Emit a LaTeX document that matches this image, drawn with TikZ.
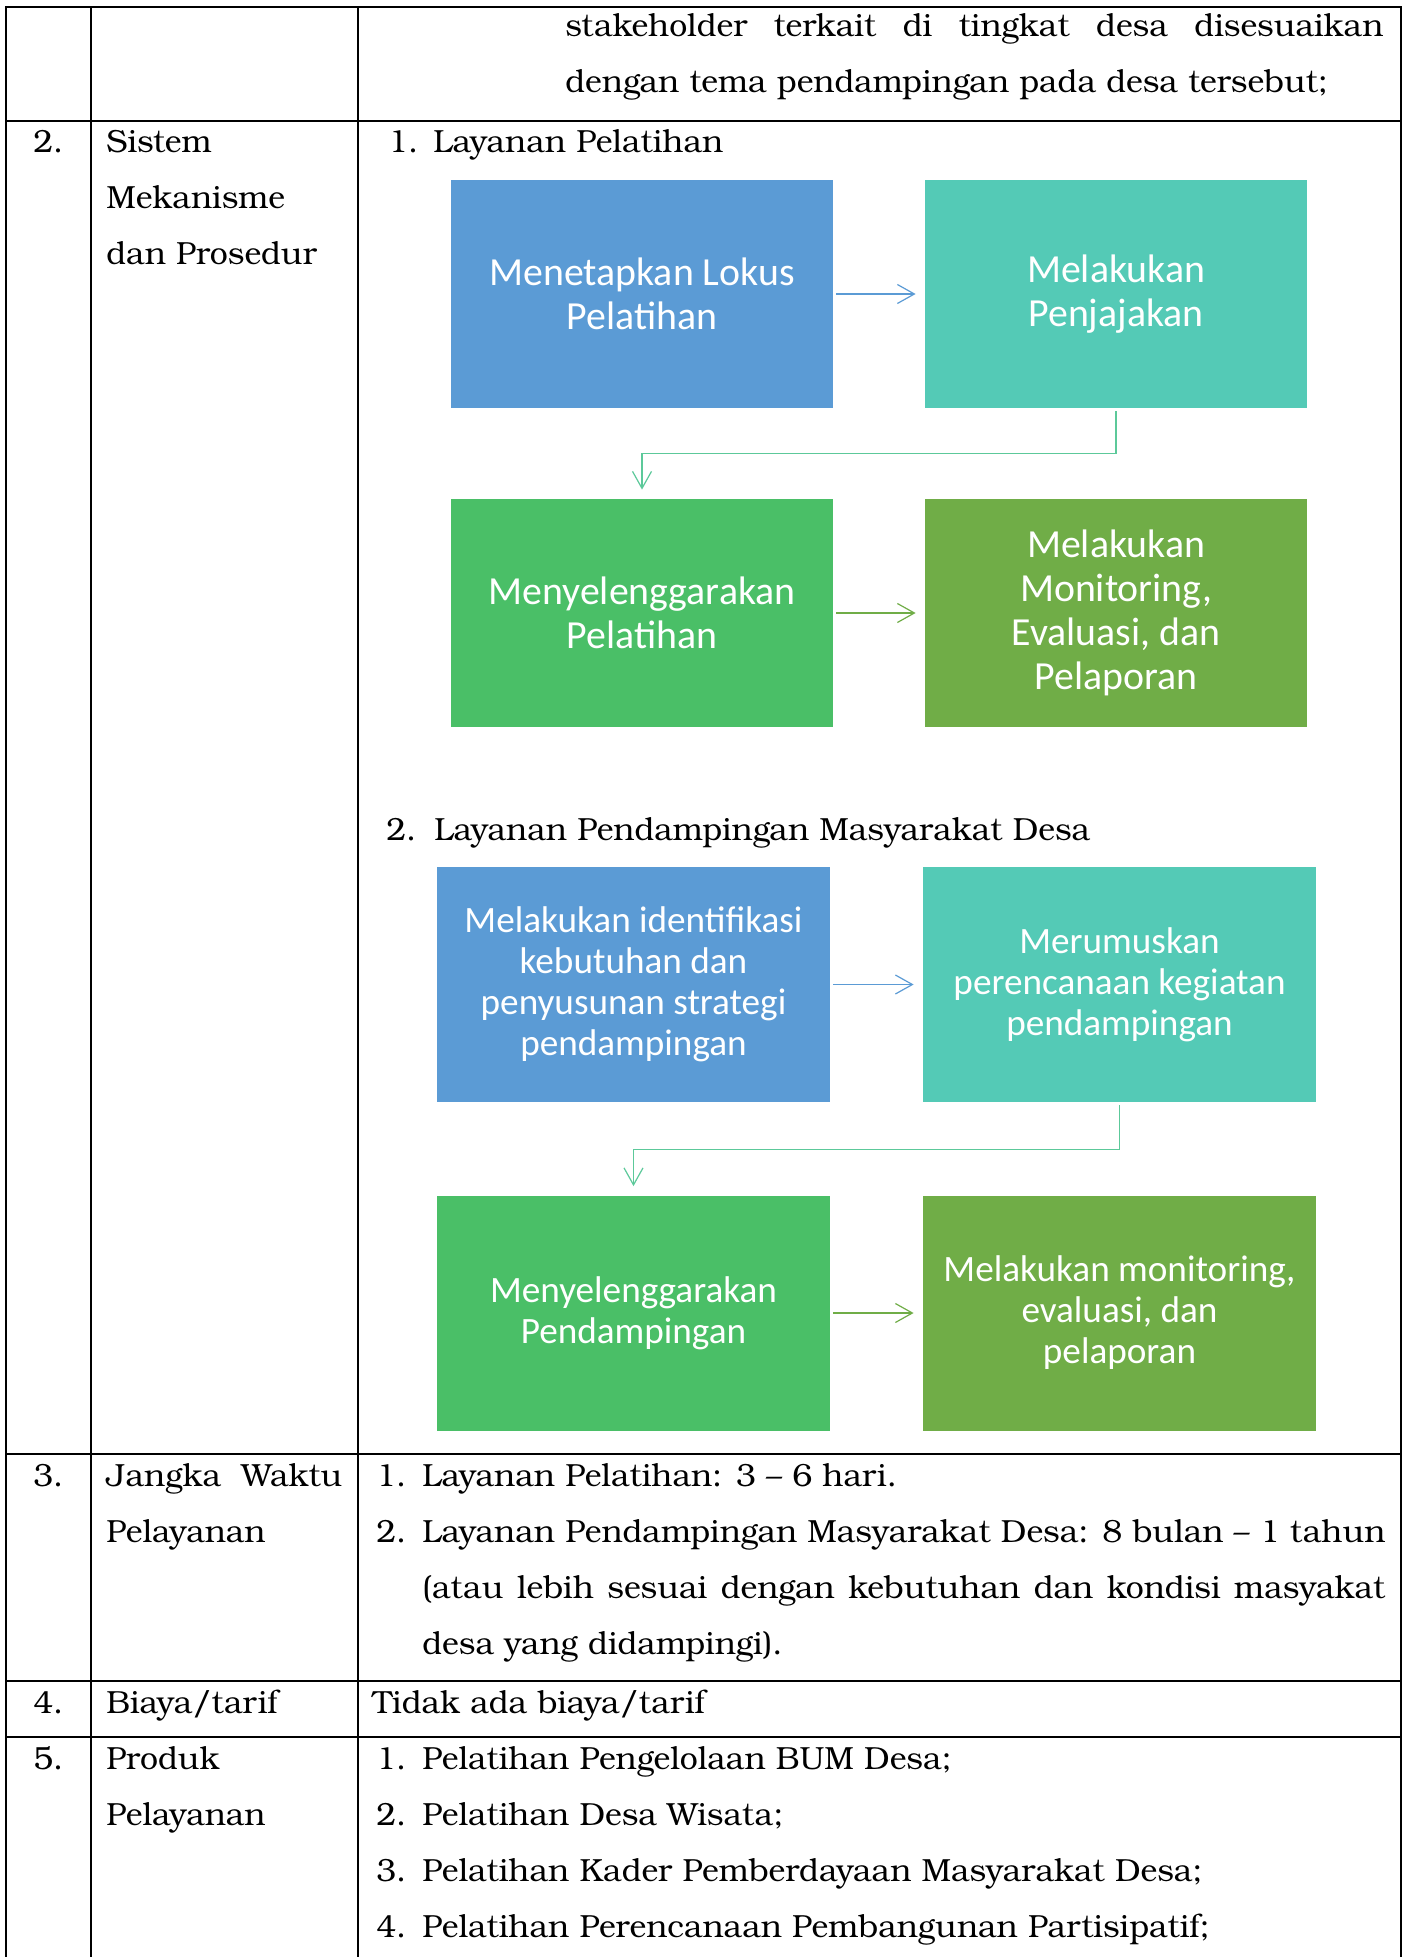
\documentclass[tikz,border=0pt]{standalone}
\usepackage{fontspec}
\setmainfont{TeX Gyre Bonum}
\newfontfamily\boxfont{Carlito}
\usetikzlibrary{arrows.meta}
\definecolor{cblue}{HTML}{5B9BD5}
\definecolor{cteal}{HTML}{54CAB6}
\definecolor{cgreen}{HTML}{4ABF67}
\definecolor{colive}{HTML}{70AD47}
\definecolor{clink}{HTML}{5CC99A}
\begin{document}
\begin{tikzpicture}[x=0.5pt,y=-0.5pt,
  tbl/.style={line width=0.85pt},
  txt/.style={anchor=base west, inner sep=0pt, font=\fontsize{16pt}{28pt}\selectfont},
  fboxa/.style={minimum width=191pt, minimum height=114pt, inner sep=0pt, text=white, align=center, font=\boxfont\fontsize{19.9pt}{22pt}\selectfont},
  fboxb/.style={minimum width=196.5pt, minimum height=117.5pt, inner sep=0pt, text=white, align=center, font=\boxfont\fontsize{18.6pt}{20.5pt}\selectfont},
  arr/.style={line width=0.6pt, -{Straight Barb[length=8.5pt,width=9.5pt]}}
]
\useasboundingbox (0,0) rectangle (1408,1957);
\fill[white] (0,0) rectangle (1408,1957);

% table lines
\draw[tbl] (6,1957) -- (6,7) -- (1401,7) -- (1401,1957);
\draw[tbl] (91,7) -- (91,1957);
\draw[tbl] (358,7) -- (358,1957);
\draw[tbl] (6,121) -- (1401,121);
\draw[tbl] (6,1454) -- (1401,1454);
\draw[tbl] (6,1681) -- (1401,1681);
\draw[tbl] (6,1737) -- (1401,1737);

% row 1
\node[txt] (r1a) at (565,37) {\makebox[409pt][s]{stakeholder terkait di tingkat desa disesuaikan}};
\node[txt] (r1b) at (565,93) {dengan tema pendampingan pada desa tersebut;};

% row 2
\node[txt] (n2) at (33,153) {2.};
\node[txt] (h2a) at (106,153) {Sistem};
\node[txt] (h2b) at (106,209) {Mekanisme};
\node[txt] (h2c) at (106,265) {dan Prosedur};
\node[txt] (l1n) at (388,153) {1.};
\node[txt] (l1t) at (433,153) {Layanan Pelatihan};
\node[txt] (l2n) at (386,840) {2.};
\node[txt] (l2t) at (434,840) {Layanan Pendampingan Masyarakat Desa};

% flowchart 1
\node[fboxa, fill=cblue] (A) at (642,294) {Menetapkan Lokus\\Pelatihan};
\node[fboxa, fill=cteal] (B) at (1116,294) {Melakukan\\Penjajakan};
\node[fboxa, fill=cgreen] (C) at (642,613) {Menyelenggarakan\\Pelatihan};
\node[fboxa, fill=colive] (D) at (1116,613) {Melakukan\\Monitoring,\\Evaluasi, dan\\Pelaporan};
\draw[arr, cblue] ([xshift=1.5pt]A.east) -- ([xshift=-4.5pt]B.west);
\draw[arr, clink] ([yshift=-1.5pt]B.south) -- ++(0,42) -| ([yshift=4.5pt]C.north);
\draw[arr, colive] ([xshift=1.5pt]C.east) -- ([xshift=-4.5pt]D.west);

% flowchart 2
\node[fboxb, fill=cblue] (E) at (633.5,984.5) {Melakukan identifikasi\\kebutuhan dan\\penyusunan strategi\\pendampingan};
\node[fboxb, fill=cteal] (F) at (1119.5,984.5) {Merumuskan\\perencanaan kegiatan\\pendampingan};
\node[fboxb, fill=cgreen] (G) at (633.5,1313) {Menyelenggarakan\\Pendampingan};
\node[fboxb, fill=colive] (H) at (1119.5,1313) {Melakukan monitoring,\\evaluasi, dan\\pelaporan};
\draw[arr, cblue] ([xshift=1.5pt]E.east) -- ([xshift=-4.5pt]F.west);
\draw[arr, clink] ([yshift=-1.5pt]F.south) -- ++(0,44) -| ([yshift=4.5pt]G.north);
\draw[arr, colive] ([xshift=1.5pt]G.east) -- ([xshift=-4.5pt]H.west);

% row 3
\node[txt] (n3) at (33,1486) {3.};
\node[txt] (h3a) at (106,1486) {\makebox[118pt][s]{Jangka Waktu}};
\node[txt] (h3b) at (106,1542) {Pelayanan};
\node[txt] (w1n) at (376,1486) {1.};
\node[txt] (w1t) at (422,1486) {Layanan Pelatihan: 3 – 6 hari.};
\node[txt] (w2n) at (376,1542) {2.};
\node[txt] (w2t) at (422,1542) {\makebox[481.5pt][s]{Layanan Pendampingan Masyarakat Desa: 8 bulan – 1 tahun}};
\node[txt] (w2u) at (422,1598) {\makebox[481.5pt][s]{(atau lebih sesuai dengan kebutuhan dan kondisi masyakat}};
\node[txt] (w2v) at (422,1654) {desa yang didampingi).};

% row 4
\node[txt] (n4) at (33,1713) {4.};
\node[txt] (h4) at (106,1713) {Biaya/tarif};
\node[txt] (b4) at (372,1713) {Tidak ada biaya/tarif};

% row 5
\node[txt] (n5) at (33,1769) {5.};
\node[txt] (h5a) at (106,1769) {Produk};
\node[txt] (h5b) at (106,1825) {Pelayanan};
\node[txt] (p1n) at (376,1769) {1.};
\node[txt] (p1t) at (422,1769) {Pelatihan Pengelolaan BUM Desa;};
\node[txt] (p2n) at (376,1825) {2.};
\node[txt] (p2t) at (422,1825) {Pelatihan Desa Wisata;};
\node[txt] (p3n) at (376,1881) {3.};
\node[txt] (p3t) at (422,1881) {Pelatihan Kader Pemberdayaan Masyarakat Desa;};
\node[txt] (p4n) at (376,1937) {4.};
\node[txt] (p4t) at (422,1937) {Pelatihan Perencanaan Pembangunan Partisipatif;};
\end{tikzpicture}
\end{document}
